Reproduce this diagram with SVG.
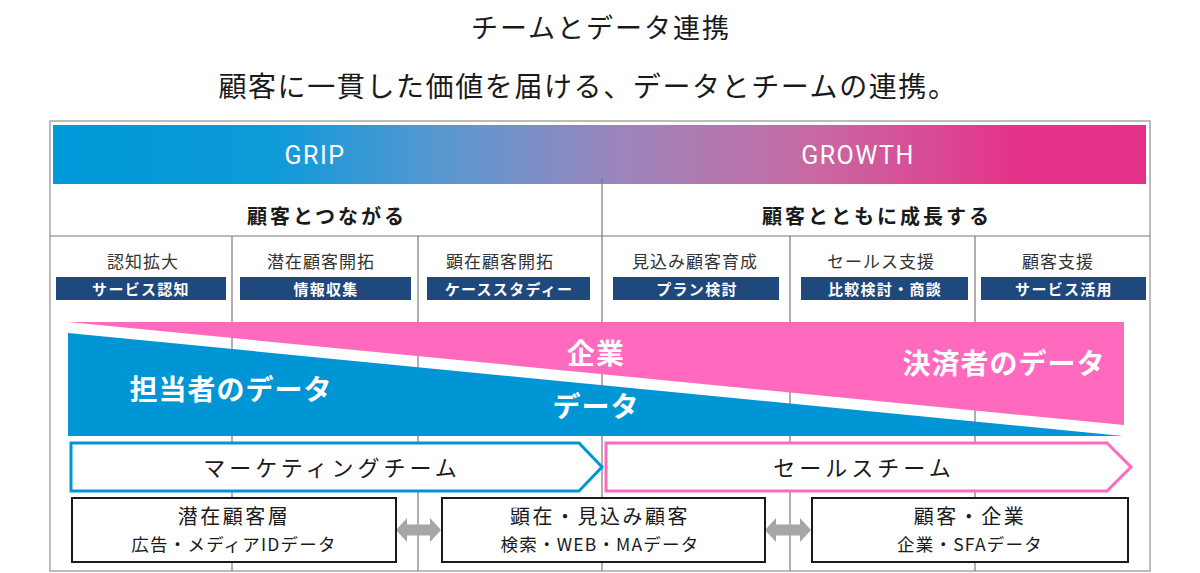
<svg xmlns="http://www.w3.org/2000/svg" width="1200" height="573" viewBox="0 0 1200 573">
<defs>
<linearGradient id="hdr" x1="53" y1="0" x2="1146" y2="0" gradientUnits="userSpaceOnUse">
<stop offset="0" stop-color="#0099d9"/>
<stop offset="0.2" stop-color="#0e9ad9"/>
<stop offset="0.36" stop-color="#5a97d0"/>
<stop offset="0.52" stop-color="#9c85bb"/>
<stop offset="0.7" stop-color="#c968a2"/>
<stop offset="0.88" stop-color="#e5338a"/>
<stop offset="1" stop-color="#e6318a"/>
</linearGradient>
</defs>
<style>
text{font-family:"Noto Sans CJK JP","Noto Sans",sans-serif;dominant-baseline:central;text-anchor:middle}
.title{font-size:27px;fill:#1a1a1a;letter-spacing:2px}
.sub{font-size:28px;fill:#1a1a1a;letter-spacing:1.6px}
.band{font-family:Roboto,"Noto Sans",sans-serif;font-size:25px;fill:#fff;letter-spacing:1.5px}
.phase{font-size:20px;font-weight:bold;fill:#1a1a1a;letter-spacing:3px}
.col{font-size:17px;fill:#333;letter-spacing:1px}
.tag{fill:#1f497d}
.tagt{font-size:15px;font-weight:bold;fill:#fff;letter-spacing:1.3px}
.big{font-size:28px;font-weight:bold;fill:#fff;letter-spacing:1px}
.team{font-size:22px;fill:#1a1a1a;letter-spacing:4px}
.box{fill:#fff;stroke:#1a1a1a;stroke-width:2}
.l1{font-size:20px;fill:#1a1a1a;letter-spacing:2.5px}
.l2{font-size:17.5px;fill:#1a1a1a;letter-spacing:1.2px}
.div{stroke:#7a7a7a;stroke-width:1.2}
.arr{fill:#a6a6a6}
</style>
<rect width="1200" height="573" fill="#fff"/>
<g id="titles">
<text class="title" x="601" y="26">チームとデータ連携</text>
<text class="sub" x="588" y="85">顧客に一貫した価値を届ける、データとチームの連携。</text>
</g>
<g id="frame">
<rect x="50" y="121" width="1100" height="450" fill="#fff" stroke="#a6a6a6" stroke-width="1.5"/>
</g>
<g id="header">
<rect x="53" y="125" width="1093" height="59" fill="url(#hdr)"/>
<text class="band" x="315" y="155">GRIP</text>
<text class="band" x="858" y="155">GROWTH</text>
</g>
<g id="grid">
<line class="div" x1="50" y1="236" x2="1150" y2="236"/>
<line class="div" x1="602" y1="178" x2="602" y2="571"/>
<line class="div" x1="232" y1="236" x2="232" y2="571"/>
<line class="div" x1="418" y1="236" x2="418" y2="571"/>
<line class="div" x1="790" y1="236" x2="790" y2="571"/>
<line class="div" x1="975" y1="236" x2="975" y2="571"/>
</g>
<g id="phases">
<text class="phase" x="327" y="215">顧客とつながる</text>
<text class="phase" x="877" y="215">顧客とともに成長する</text>
</g>
<g id="col1">
<text class="col" x="143" y="260">認知拡大</text>
<rect class="tag" x="56" y="277" width="170" height="23"/>
<text class="tagt" x="141" y="288.5">サービス認知</text>
</g>
<g id="col2">
<text class="col" x="321" y="260">潜在顧客開拓</text>
<rect class="tag" x="240" y="277" width="171" height="23"/>
<text class="tagt" x="326" y="288.5">情報収集</text>
</g>
<g id="col3">
<text class="col" x="500" y="260">顕在顧客開拓</text>
<rect class="tag" x="427" y="277" width="163" height="23"/>
<text class="tagt" x="509" y="288.5">ケーススタディー</text>
</g>
<g id="col4">
<text class="col" x="695" y="260">見込み顧客育成</text>
<rect class="tag" x="613" y="277" width="166" height="23"/>
<text class="tagt" x="697" y="288.5">プラン検討</text>
</g>
<g id="col5">
<text class="col" x="881" y="260">セールス支援</text>
<rect class="tag" x="801" y="277" width="167" height="23"/>
<text class="tagt" x="885" y="288.5">比較検討・商談</text>
</g>
<g id="col6">
<text class="col" x="1058" y="260">顧客支援</text>
<rect class="tag" x="981" y="277" width="165" height="23"/>
<text class="tagt" x="1064" y="288.5">サービス活用</text>
</g>
<g id="enterprise-data">
<polygon points="68,322 1124,322 1124,425" fill="#ff69be"/>
<text class="big" x="596" y="352">企業</text>
<text class="big" x="1004" y="362">決済者のデータ</text>
</g>
<g id="person-data">
<polygon points="68,333 1123,436 68,436" fill="#0096d6"/>
<text class="big" x="231" y="388">担当者のデータ</text>
<text class="big" x="596" y="405">データ</text>
</g>
<g id="marketing-team">
<polygon points="71,443 579,443 602,467 579,491 71,491" fill="#fff" stroke="#0096d6" stroke-width="3"/>
<text class="team" x="332" y="466">マーケティングチーム</text>
</g>
<g id="sales-team">
<polygon points="606,443 1107,443 1131,467 1107,491 606,491" fill="#fff" stroke="#ff69be" stroke-width="3"/>
<text class="team" x="864" y="466">セールスチーム</text>
</g>
<g id="connectors">
<polygon class="arr" points="396,530 407,518 407,524.5 430,524.5 430,518 441,530 430,542 430,535.5 407,535.5 407,542"/>
<polygon class="arr" points="765,530 776,518 776,524.5 800,524.5 800,518 811,530 800,542 800,535.5 776,535.5 776,542"/>
</g>
<g id="box1">
<rect class="box" x="72" y="498" width="324" height="64"/>
<text class="l1" x="234" y="515">潜在顧客層</text>
<text class="l2" x="234" y="543">広告・メディアIDデータ</text>
</g>
<g id="box2">
<rect class="box" x="442" y="498" width="323" height="64"/>
<text class="l1" x="600" y="515">顕在・見込み顧客</text>
<text class="l2" x="600" y="543">検索・WEB・MAデータ</text>
</g>
<g id="box3">
<rect class="box" x="812" y="498" width="316" height="64"/>
<text class="l1" x="970" y="515">顧客・企業</text>
<text class="l2" x="970" y="543">企業・SFAデータ</text>
</g>
</svg>
